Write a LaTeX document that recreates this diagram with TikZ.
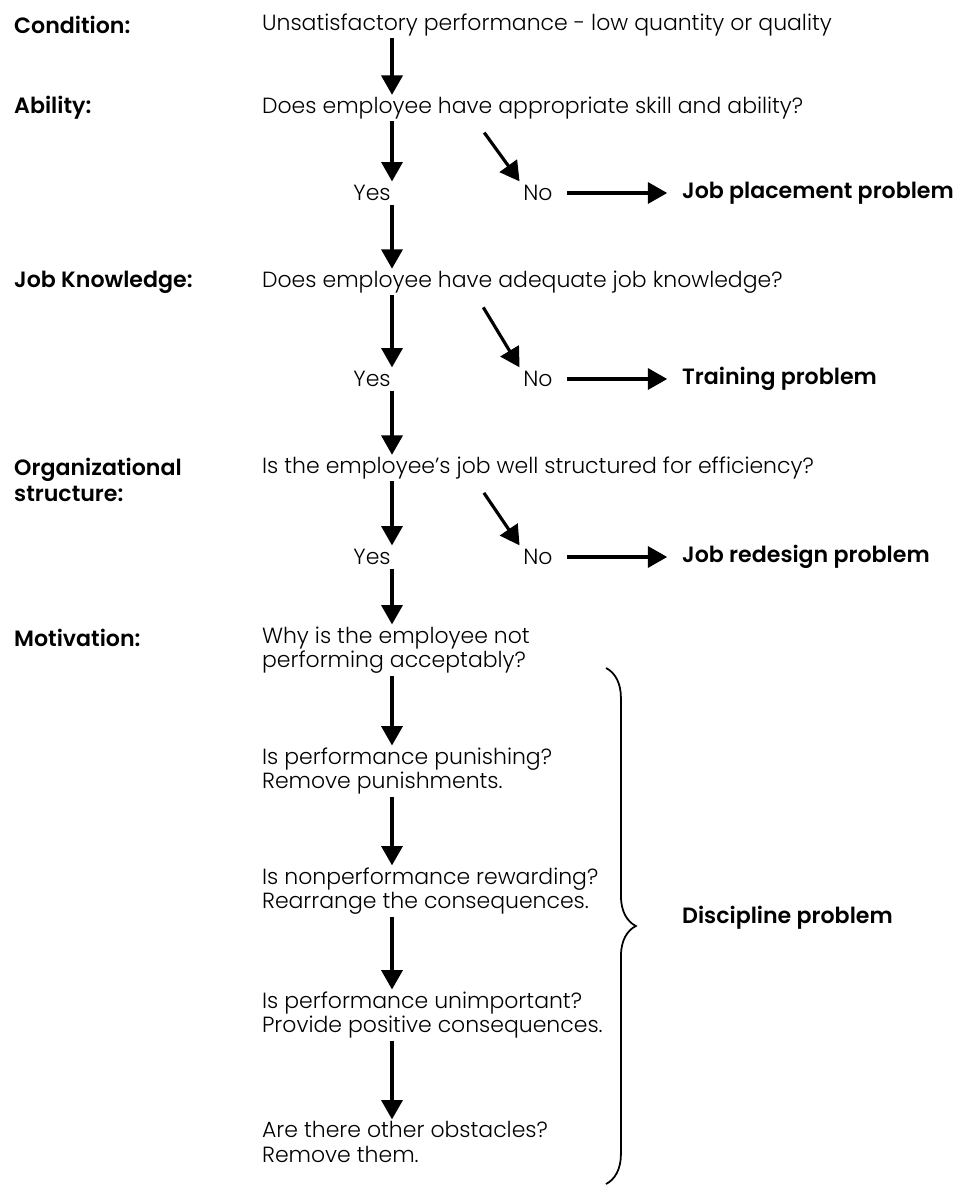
\documentclass[tikz,border=0pt]{standalone}
\usepackage{fontspec}
\setmainfont{Poppins}[UprightFont=* Light, BoldFont=* SemiBold]
\usetikzlibrary{arrows.meta,decorations.pathreplacing}

\tikzset{
  lbl/.style={anchor=west, align=left, font=\fontsize{12.6}{15}\selectfont\bfseries},
  txt/.style={anchor=west, align=left, inner sep=1pt, font=\fontsize{12.5}{14}\selectfont},
  ans/.style={inner sep=2pt, font=\fontsize{12.5}{14}\selectfont},
  res/.style={anchor=west, font=\fontsize{12.6}{15}\selectfont\bfseries},
  arr/.style={line width=1.8pt, -{Triangle[length=11pt,width=12pt]}},
  side/.style={arr, shorten <=6pt, shorten >=5pt},
}

\begin{document}
\begin{tikzpicture}[x=.02cm, y=-.02cm]
\useasboundingbox (0,0) rectangle (974,1190);
\coordinate (axis) at (392,0);
\coordinate (diag) at (476,0);
% left column
\node[lbl] (lcond) at (8,25) {Condition:};
\node[lbl] (labil) at (8,108) {Ability:};
\node[lbl] (lknow) at (8,282) {Job Knowledge:};
\node[lbl] (lorg) at (8,480) {Organizational\\structure:};
\node[lbl] (lmot) at (8,638) {Motivation:};
% questions
\node[txt] (cond) at (260,25) {Unsatisfactory performance - low quantity or quality};
\node[txt] (abil) at (260,108) {Does employee have appropriate skill and ability?};
\node[ans] (yes1) at (372,193) {Yes};
\node[ans] (no1) at (538,193) {No};
\node[res] (res1) at (676,193) {Job placement problem};
\node[txt] (know) at (260,282) {Does employee have adequate job knowledge?};
\node[ans] (yes2) at (372,379) {Yes};
\node[ans] (no2) at (538,379) {No};
\node[res] (res2) at (676,379) {Training problem};
\node[txt] (org) at (260,468) {Is the employee's job well structured for efficiency?};
\node[ans] (yes3) at (372,557) {Yes};
\node[ans] (no3) at (538,557) {No};
\node[res] (res3) at (676,557) {Job redesign problem};
% motivation steps
\node[txt] (mot1) at (260,650) {Why is the employee not\\performing acceptably?};
\node[txt] (mot2) at (260,771) {Is performance punishing?\\Remove punishments.};
\node[txt] (mot3) at (260,891) {Is nonperformance rewarding?\\Rearrange the consequences.};
\node[txt] (mot4) at (260,1015) {Is performance unimportant?\\Provide positive consequences.};
\node[txt] (mot5) at (260,1142) {Are there other obstacles?\\Remove them.};
\node[res] (disc) at (676,918) {Discipline problem};
% arrows
\draw[arr] (cond.south -| axis) -- (abil.north -| axis);
\draw[arr] (abil.south -| axis) -- (yes1.north -| axis);
\draw[arr, shorten <=8pt] (abil.south -| diag) -- (no1.north west);
\draw[side] (no1.east) -- (res1.west);
\draw[arr] (yes1.south -| axis) -- (know.north -| axis);
\draw[arr] (know.south -| axis) -- (yes2.north -| axis);
\draw[arr, shorten <=8pt] (know.south -| diag) -- (no2.north west);
\draw[side] (no2.east) -- (res2.west);
\draw[arr] (yes2.south -| axis) -- (org.north -| axis);
\draw[arr] (org.south -| axis) -- (yes3.north -| axis);
\draw[arr, shorten <=8pt] (org.south -| diag) -- (no3.north west);
\draw[side] (no3.east) -- (res3.west);
\draw[arr] (yes3.south -| axis) -- (mot1.north -| axis);
\draw[arr] (mot1.south -| axis) -- (mot2.north -| axis);
\draw[arr] (mot2.south -| axis) -- (mot3.north -| axis);
\draw[arr] (mot3.south -| axis) -- (mot4.north -| axis);
\draw[arr] (mot4.south -| axis) -- (mot5.north -| axis);
% brace
\draw[line width=1pt, decorate, decoration={brace, amplitude=17pt}] (606,668) -- (606,1184);
\end{tikzpicture}
\end{document}
